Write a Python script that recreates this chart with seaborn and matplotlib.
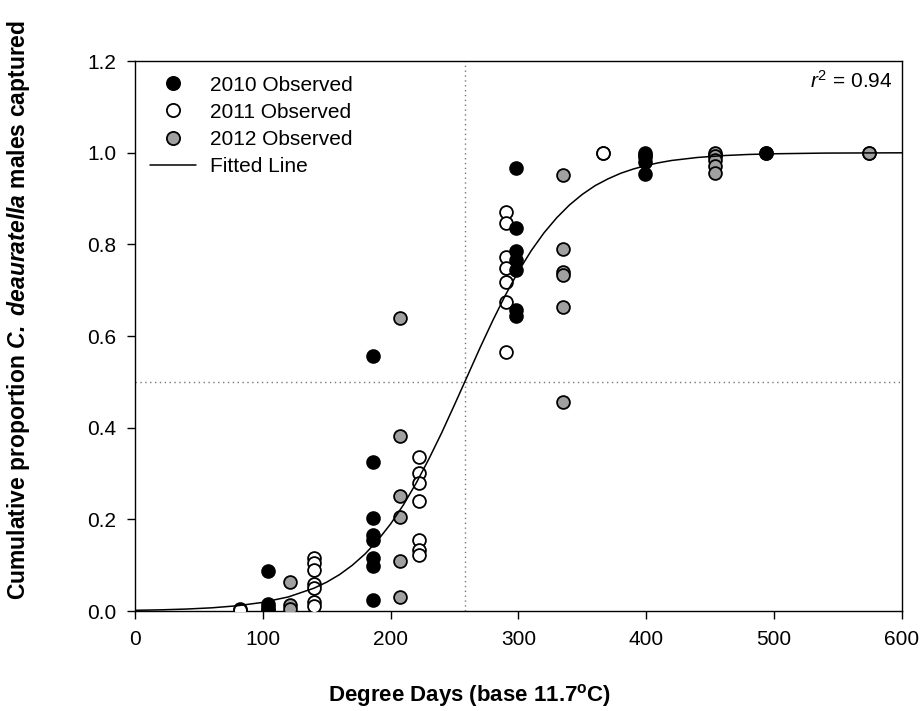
import pandas as pd
import matplotlib.pyplot as plt
import seaborn as sns
from matplotlib.lines import Line2D

# observed cumulative proportions
dd_2010 = [104, 104, 104, 104, 104,
           186, 186, 186, 186, 186, 186, 186, 186,
           298, 298, 298, 298, 298, 298, 298,
           399, 399, 399, 399, 399,
           494]
p_2010 = [0.088, 0.015, 0.008, 0.003, 0.0,
          0.557, 0.325, 0.203, 0.166, 0.155, 0.116, 0.098, 0.024,
          0.966, 0.835, 0.786, 0.766, 0.743, 0.657, 0.644,
          1.0, 0.995, 0.99, 0.98, 0.953,
          1.0]

dd_2011 = [82, 82,
           140, 140, 140, 140, 140, 140, 140,
           222, 222, 222, 222, 222, 222, 222,
           290, 290, 290, 290, 290, 290, 290,
           366, 366, 454, 494, 574]
p_2011 = [0.005, 0.003,
          0.115, 0.105, 0.09, 0.06, 0.05, 0.02, 0.01,
          0.336, 0.301, 0.279, 0.24, 0.155, 0.133, 0.122,
          0.871, 0.846, 0.772, 0.748, 0.717, 0.675, 0.566,
          1.0, 1.0, 0.995, 1.0, 1.0]

dd_2012 = [121, 121, 121,
           207, 207, 207, 207, 207, 207,
           335, 335, 335, 335, 335, 335,
           454, 454, 454, 454, 454,
           574]
p_2012 = [0.064, 0.013, 0.004,
          0.639, 0.382, 0.25, 0.205, 0.11, 0.03,
          0.951, 0.79, 0.739, 0.733, 0.663, 0.455,
          1.0, 0.993, 0.985, 0.972, 0.955,
          1.0]

# fitted line
fit_dd = [0, 20, 40, 60, 80, 100, 120, 140, 150, 160, 170, 180, 190, 200,
          210, 220, 230, 240, 250, 260, 270, 280, 290, 300, 310, 320, 330,
          340, 350, 360, 370, 380, 390, 400, 410, 420, 440, 460, 480, 500,
          540, 600]
fit_p = [0.0016, 0.0026, 0.0043, 0.0070, 0.0115, 0.0189, 0.0308, 0.0498,
         0.063, 0.0794, 0.0998, 0.1245, 0.1545, 0.190, 0.2315, 0.279, 0.332,
         0.389, 0.450, 0.512, 0.5744, 0.634, 0.690, 0.741, 0.786, 0.825,
         0.858, 0.886, 0.909, 0.928, 0.9427, 0.955, 0.9644, 0.972, 0.9781,
         0.983, 0.9895, 0.9936, 0.9961, 0.9976, 0.9991, 0.9997]

dd50 = 258

sns.set_style("ticks")
plt.rcParams['font.family'] = ['Liberation Sans', 'DejaVu Sans']
plt.rcParams['text.color'] = 'black'
plt.rcParams['axes.labelcolor'] = 'black'
plt.rcParams['xtick.color'] = 'black'
plt.rcParams['ytick.color'] = 'black'
plt.rcParams['mathtext.fontset'] = 'custom'
plt.rcParams['mathtext.rm'] = 'Liberation Sans'
plt.rcParams['mathtext.it'] = 'Liberation Sans:italic'
plt.rcParams['mathtext.bf'] = 'Liberation Sans:bold'
plt.rcParams['mathtext.bfit'] = 'Liberation Sans:italic:bold'

fig = plt.figure(figsize=(9.21, 7.11), dpi=100)
ax = fig.add_axes([0.1466, 0.1406, 0.8325, 0.7736])

ax.axvline(dd50, color='#777777', linestyle=(0, (1, 2.5)), linewidth=1, zorder=1)
ax.axhline(0.5, color='#777777', linestyle=(0, (1, 2.5)), linewidth=1, zorder=1)

pts = dict(s=85, edgecolor='black', linewidth=1.3, ax=ax, legend=False)
sns.scatterplot(x=dd_2011, y=p_2011, color='white', zorder=3, **pts)
sns.scatterplot(x=dd_2012, y=p_2012, color='#a0a0a0', zorder=4, **pts)
sns.scatterplot(x=dd_2010, y=p_2010, color='black', zorder=5, **pts)

fit = pd.DataFrame({'dd': fit_dd, 'p': fit_p})
sns.lineplot(data=fit, x='dd', y='p', color='black', linewidth=1.1, ax=ax, zorder=6)

ax.set_xlim(0, 600)
ax.set_ylim(0, 1.2)
ax.set_xticks(range(0, 601, 100))
ax.set_yticks([0, 0.2, 0.4, 0.6, 0.8, 1.0, 1.2])
ax.set_yticklabels(['0.0', '0.2', '0.4', '0.6', '0.8', '1.0', '1.2'])
ax.tick_params(direction='out', length=5.5, width=1, labelsize=15, pad=8,
               top=False, right=False)
for sp in ax.spines.values():
    sp.set_linewidth(1)
    sp.set_color('black')

ax.set_xlabel(r'Degree Days (base 11.7$^{\mathbf{o}}$C)', fontsize=16, fontweight='bold')
ax.set_ylabel(r'Cumulative proportion $\mathbfit{C.}$ $\mathbfit{deauratella}$ males captured',
              fontsize=16.5, fontweight='bold')
ax.xaxis.set_label_coords(0.437, -0.129)
ax.yaxis.set_label_coords(-0.134, 0.547)

ax.text(0.988, 0.983, r'$r^2$ = 0.94', transform=ax.transAxes, ha='right', va='top',
        fontsize=15)

mk = dict(marker='o', linestyle='none', markersize=9.5, markeredgecolor='black',
          markeredgewidth=1.3)
handles = [Line2D([], [], markerfacecolor='black', **mk),
           Line2D([], [], markerfacecolor='white', **mk),
           Line2D([], [], markerfacecolor='#a0a0a0', **mk),
           Line2D([], [], color='black', linewidth=1.1)]
labels = ['2010 Observed', '2011 Observed', '2012 Observed', 'Fitted Line']
ax.legend(handles, labels, loc='upper left', frameon=False, fontsize=15,
          handlelength=2.25, handletextpad=0.65, labelspacing=0.39,
          borderaxespad=0.3)

fig.savefig('out.png', dpi=100)
